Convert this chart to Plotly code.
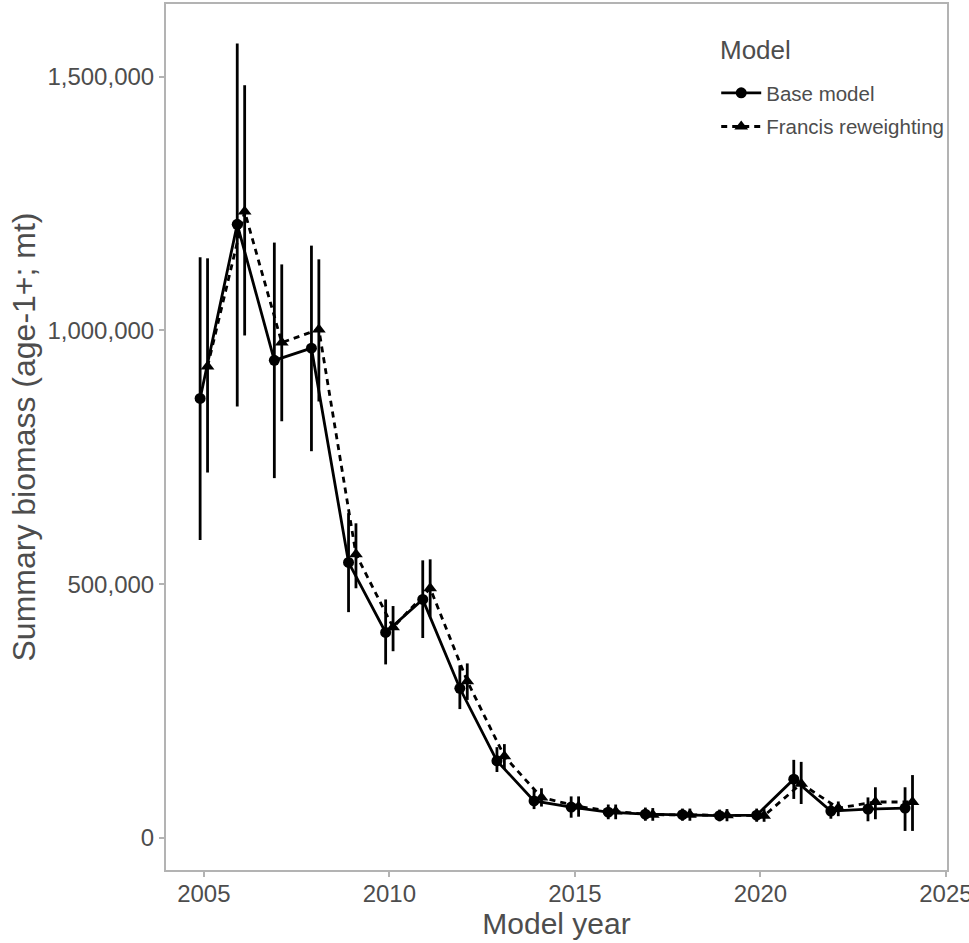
import plotly.graph_objects as go

years = list(range(2005, 2025))

base_est = [866000, 1209000, 941000, 965000, 543000, 405000, 470000, 295000, 152000, 73000,
            61000, 51000, 47000, 46000, 44000, 45000, 116000, 53000, 57000, 59000]
base_lo = [587000, 850000, 709000, 762000, 445000, 342000, 394000, 254000, 130000, 57000,
           40000, 37000, 34000, 34000, 33000, 32000, 77000, 38000, 33000, 14000]
base_hi = [1144000, 1565000, 1173000, 1167000, 640000, 470000, 547000, 340000, 179000, 95000,
           82000, 66000, 60000, 58000, 56000, 58000, 154000, 68000, 80000, 100000]

fran_est = [929000, 1234000, 976000, 1002000, 559000, 415000, 492000, 309000, 161000, 80000,
            62000, 52000, 46000, 46000, 45000, 44000, 107000, 59000, 71000, 71000]
fran_lo = [720000, 990000, 821000, 860000, 492000, 368000, 436000, 272000, 136000, 62000,
           42000, 37000, 34000, 34000, 33000, 32000, 67000, 43000, 37000, 14000]
fran_hi = [1142000, 1483000, 1130000, 1140000, 620000, 457000, 549000, 344000, 185000, 98000,
           82000, 66000, 59000, 58000, 57000, 57000, 150000, 72000, 100000, 124000]

x_ticks = [2005, 2010, 2015, 2020, 2025]
y_ticks = [0, 500000, 1000000, 1500000]
y_tick_text = ["0", "500,000", "1,000,000", "1,500,000"]

dodge = 0.1
FONT = "Liberation Sans, Arial, sans-serif"
GREY = "#4D4D4D"

fig = go.Figure()

def add_series(name, group, est, lo, hi, shift, symbol, dash, msize):
    xs = [y + shift for y in years]
    fig.add_trace(go.Scatter(
        x=xs, y=est, name=name, legendgroup=group, mode="lines+markers",
        line=dict(color="black", width=2.8, dash=dash),
        marker=dict(symbol=symbol, size=msize, color="black"),
        error_y=dict(type="data", symmetric=False,
                     array=[h - e for h, e in zip(hi, est)],
                     arrayminus=[e - l for e, l in zip(est, lo)],
                     color="black", thickness=2.8, width=0),
    ))

add_series("Base model", "a", base_est, base_lo, base_hi, -dodge, "circle", "solid", 11)
add_series("Francis reweighting", "b", fran_est, fran_lo, fran_hi, dodge, "triangle-up", "6px,5px", 12)

fig.add_annotation(
    text="Model", xref="paper", yref="paper", x=0.7068, y=0.9469,
    xanchor="left", yanchor="middle", showarrow=False,
    font=dict(size=26, color=GREY, family=FONT),
)

fig.update_layout(
    width=969, height=943,
    margin=dict(l=166, r=22, t=4, b=73, autoexpand=False),
    paper_bgcolor="white", plot_bgcolor="white",
    font=dict(family=FONT, color=GREY),
    showlegend=True,
    legend=dict(
        font=dict(size=20.5, color=GREY),
        x=0.7045, y=0.9203, xanchor="left", yanchor="top",
        bgcolor="rgba(255,255,255,0)", borderwidth=0,
        itemwidth=40, tracegroupgap=4,
    ),
    xaxis=dict(
        range=[2003.98, 2025.03], automargin=False,
        tickvals=x_ticks, ticktext=[str(v) for v in x_ticks],
        ticklabeloverflow="allow", ticklabelstandoff=-4,
        showgrid=False, zeroline=False,
        showline=True, mirror=True, linecolor="#B3B3B3", linewidth=2,
        ticks="outside", ticklen=5, tickwidth=1.5, tickcolor="#B3B3B3",
        tickfont=dict(size=24, color=GREY),
        title=dict(text="Model year", font=dict(size=30, color=GREY), standoff=0),
    ),
    yaxis=dict(
        range=[-63000, 1643000], automargin=False,
        tickvals=y_ticks, ticktext=y_tick_text,
        showgrid=False, zeroline=False,
        showline=True, mirror=True, linecolor="#B3B3B3", linewidth=2,
        ticks="outside", ticklen=5, tickwidth=1.5, tickcolor="#B3B3B3",
        tickfont=dict(size=24, color=GREY),
        title=dict(text="Summary biomass (age-1+; mt)", font=dict(size=32, color=GREY), standoff=2),
    ),
)

fig.write_html("out.html", config={"displayModeBar": False},
               post_script="document.body.style.margin='0';")
